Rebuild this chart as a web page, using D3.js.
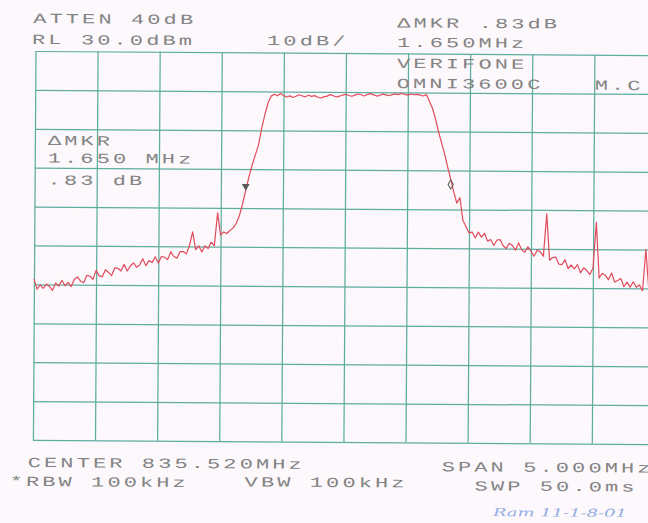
<!DOCTYPE html>
<html lang="en">
<head>
<meta charset="UTF-8">
<title>VERIFONE OMNI3600C spectrum plot</title>
<style>
    body {
        margin: 0;
        background: #fcf8fb;
    }

    svg {
        display: block;
    }

    .grid line {
        stroke: #5cae9f;
        stroke-width: 1.25px;
    }

    .grid path {
        display: none;
    }

    .trace {
        fill: none;
        stroke: #e14c5c;
        stroke-width: 1.2px;
        stroke-linejoin: round;
    }

    .label {
        font-family: "Liberation Mono", "DejaVu Sans Mono", monospace;
        font-size: 14px;
        letter-spacing: 2px;
        fill: #838383;
    }

    .sig {
        font-family: "DejaVu Serif", serif;
        font-style: italic;
        font-size: 11px;
        fill: #93aee4;
    }
</style>
</head>
<body>
<svg width="648" height="523"></svg>
<script src="https://d3js.org/d3.v7.min.js"></script>
<script>
    // sweep settings printed on the plot
    let startMHz = 834.02, stopMHz = 839.02, stepMHz = 0.025;
    let refLevel = 30, dbPerDiv = 10, divisions = 10;

    // trace level (dBm), one reading per 25 kHz bin from startMHz
    let level = [
        -28.6, -31.2, -30.1, -31.0, -29.9, -30.5, -31.5, -29.6, -30.4, -28.9,
        -30.3, -29.4, -30.5, -28.6, -28.0, -29.1, -29.5, -27.6, -27.8, -28.6,
        -26.3, -27.7, -27.9, -26.1, -26.8, -27.6, -25.6, -25.7, -26.4, -24.7,
        -26.4, -25.1, -24.3, -25.4, -24.8, -23.2, -25.0, -23.7, -24.2, -22.7,
        -24.3, -22.6, -22.8, -23.4, -21.4, -22.6, -23.0, -21.3, -21.3, -21.9,
        -19.8, -16.2, -20.8, -19.8, -21.4, -19.8, -20.5, -18.8, -19.8, -11.3,
        -17.0, -16.2, -16.6, -15.8, -15.2, -14.0, -12.0, -9.0, -5.5, -2.0,
        1.0, 3.6, 6.2, 10.5, 14.0, 17.0, 18.8, 19.3, 18.9, 19.5,
        19.0, 18.6, 18.9, 18.5, 18.8, 19.2, 18.9, 18.7, 19.1, 18.8,
        19.0, 18.6, 18.4, 18.7, 18.9, 19.3, 19.0, 18.7, 18.9, 19.2,
        19.4, 19.1, 18.9, 19.2, 19.5, 19.3, 19.0, 19.4, 19.6, 19.3,
        19.0, 19.2, 19.5, 19.3, 19.1, 19.4, 19.6, 19.4, 19.7, 19.5,
        19.3, 19.6, 19.4, 19.5, 19.3, 19.1, 19.5, 17.7, 15.9, 13.1,
        9.8, 7.0, 4.2, 0.8, -2.2, -5.5, -8.4, -7.0, -12.8, -14.4,
        -16.0, -15.8, -17.3, -15.8, -17.1, -16.1, -18.1, -17.7, -19.2, -17.8,
        -17.7, -19.2, -20.0, -18.6, -19.2, -20.4, -18.5, -20.3, -20.9, -19.5,
        -20.6, -21.9, -20.3, -20.8, -21.9, -11.0, -22.9, -22.2, -22.1, -23.9,
        -24.0, -22.8, -25.0, -24.1, -25.1, -24.0, -26.1, -24.8, -25.5, -26.5,
        -24.9, -13.1, -27.4, -26.2, -26.7, -27.8, -26.1, -28.4, -28.0, -27.5,
        -29.6, -28.4, -29.7, -28.3, -29.7, -29.1, -30.6, -20.0, -30.0, -31.0,
        -30.3
    ];

    // normal marker and delta marker (MHz, dBm)
    let markerFreq = [835.72, 837.37];
    let markerLevel = [-4.4, -3.6];

    let headerLeft = ["ATTEN 40dB", "RL 30.0dBm"];
    let scaleText = "10dB/";
    let headerRight = ["\u0394MKR .83dB", "1.650MHz", "VERIFONE", "OMNI3600C"];
    let operator = "M.C";
    let readout = ["\u0394MKR", "1.650 MHz", ".83 dB"];
    let footerLeft = ["CENTER 835.520MHz", "*RBW 100kHz"];
    let footerMid = "VBW 100kHz";
    let footerRight = ["SPAN 5.000MHz", "SWP 50.0ms"];
    let signature = "Ram 11-1-8-01";

    let svg = d3.select("svg"),
        plotLeft = 35.5, plotTop = 51, plotRight = 656.5, plotBottom = 440;

    svg.append("rect").attr("width", 648).attr("height", 523).attr("fill", "#fcf8fb");

    // the scan is a little tilted
    let g = svg.append("g").attr("transform", "rotate(0.38," + plotLeft + "," + plotTop + ")");

    let x = d3.scaleLinear().domain([startMHz, stopMHz]).range([plotLeft, plotRight]);
    let y = d3.scaleLinear().domain([refLevel, refLevel - dbPerDiv * divisions]).range([plotTop, plotBottom]);

    let xTicks = d3.range(divisions + 1).map(function (i) { return startMHz + i * (stopMHz - startMHz) / divisions; });
    let yTicks = d3.range(divisions + 1).map(function (i) { return refLevel - i * dbPerDiv; });

    g.append("g")
        .attr("class", "grid")
        .attr("transform", "translate(0," + plotBottom + ")")
        .call(d3.axisBottom(x).tickValues(xTicks).tickSize(-(plotBottom - plotTop)).tickFormat(""));

    g.append("g")
        .attr("class", "grid")
        .attr("transform", "translate(" + plotLeft + ",0)")
        .call(d3.axisLeft(y).tickValues(yTicks).tickSize(-(plotRight - plotLeft)).tickFormat(""));

    let line = d3.line()
        .x(function (d, i) { return x(startMHz + i * stepMHz); })
        .y(function (d) { return y(d); });

    g.append("path")
        .datum(level)
        .attr("class", "trace")
        .attr("d", line);

    g.append("path")
        .attr("d", d3.symbol(d3.symbolTriangle, 26)())
        .attr("fill", "#5a5a5a")
        .attr("transform", "translate(" + x(markerFreq[0]) + "," + y(markerLevel[0]) + ") rotate(180)");

    g.append("path")
        .attr("d", d3.symbol(d3.symbolDiamond, 24)())
        .attr("fill", "none")
        .attr("stroke", "#5a5a5a")
        .attr("stroke-width", 1)
        .attr("transform", "translate(" + x(markerFreq[1]) + "," + y(markerLevel[1]) + ")");

    // printer text, every character on a 16.3px pitch
    let pitch = 16.3;
    let texts = [
        [headerLeft[0], 33, 23],
        [headerLeft[1], 32, 44],
        [scaleText, 267, 43.5],
        [headerRight[0], 397, 25],
        [headerRight[1], 397, 44.5],
        [headerRight[2], 397, 65.5],
        [headerRight[3], 397, 85.5],
        [operator, 595, 86],
        [readout[0], 48.5, 145],
        [readout[1], 48.5, 162.5],
        [readout[2], 48.5, 184.5],
        [footerLeft[0], 30.5, 467],
        [footerLeft[1], 12.5, 486],
        [footerMid, 247.5, 485],
        [footerRight[0], 444.5, 468.5],
        [footerRight[1], 477.5, 487.5]
    ];

    g.selectAll(".label")
        .data(texts)
        .enter().append("text")
        .attr("class", "label")
        .attr("x", function (d) { return d[1]; })
        .attr("y", function (d) { return d[2]; })
        .attr("textLength", function (d) { return d[0].length * pitch; })
        .attr("lengthAdjust", "spacingAndGlyphs")
        .text(function (d) { return d[0]; });

    g.append("text")
        .attr("class", "sig")
        .attr("x", 496)
        .attr("y", 513)
        .attr("textLength", 134)
        .attr("lengthAdjust", "spacingAndGlyphs")
        .text(signature);
</script>
</body>
</html>
